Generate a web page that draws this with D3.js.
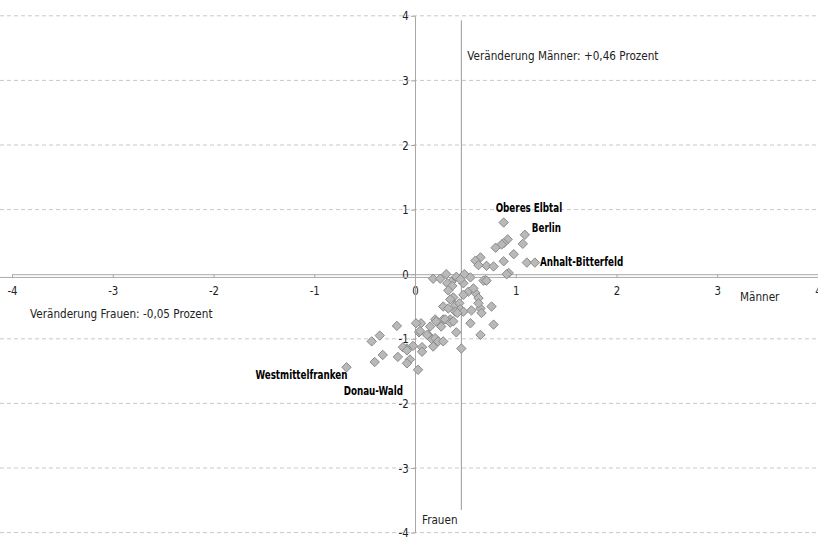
<!DOCTYPE html>
<html><head><meta charset="utf-8">
<script src="https://cdn.jsdelivr.net/npm/d3@7"></script>
<style>
body{margin:0;background:#fff;}
text{font-family:'Liberation Sans Narrow','Arial Narrow','DejaVu Sans Condensed',sans-serif;}
</style></head><body>
<svg id="c" width="818" height="537"></svg>
<script>
// Data: change in % (Männer = x, Frauen = y)
const maenner = [0.88,1.09,1.07,0.92,0.88,0.86,0.80,0.98,0.88,1.11,1.19,0.65,0.60,0.71,0.78,0.93,0.70,
 0.63,0.91,0.18,0.25,0.31,0.41,0.49,0.36,0.32,0.37,0.48,0.68,0.71,0.53,0.60,0.58,0.63,0.48,0.38,0.35,
 0.28,0.33,0.40,0.44,0.45,0.48,0.40,0.56,0.65,0.66,0.76,0.63,0.20,0.28,0.35,0.06,0.15,0.21,0.30,0.35,0.38,
 0.26,0.04,0.13,0.17,0.20,0.23,0.28,0.18,0.07,0.07,-0.02,-0.08,0.41,0.55,0.65,0.78,0.46,0.03,
 -0.18,-0.35,-0.43,-0.32,-0.40,-0.68,-0.17,-0.12,-0.08,-0.05,-0.08,0.01,0.05,0.12,0.33,0.45,0.42,0.55];
const frauen  = [0.80,0.61,0.47,0.54,0.48,0.46,0.41,0.31,0.20,0.18,0.18,0.26,0.21,0.13,0.12,0.02,-0.09,
 0.14,0.00,-0.07,-0.07,0.00,-0.04,0.00,-0.12,-0.14,-0.18,-0.14,-0.10,-0.10,-0.27,-0.29,-0.22,-0.37,-0.32,-0.36,-0.39,
 -0.50,-0.53,-0.48,-0.45,-0.54,-0.58,-0.58,-0.56,-0.53,-0.60,-0.50,-0.45,-0.70,-0.70,-0.70,-0.76,-0.81,-0.73,-0.70,-0.75,-0.73,
 -0.81,-0.90,-0.94,-1.01,-0.99,-1.04,-1.04,-1.12,-1.13,-1.20,-1.11,-1.15,-0.90,-0.76,-0.94,-0.78,-1.15,-1.48,
 -0.80,-0.95,-1.04,-1.25,-1.36,-1.44,-1.28,-1.13,-1.18,-1.32,-1.38,-0.76,-0.88,-0.94,-0.25,-0.08,-0.60,-0.05];
const labelNames = ["Oberes Elbtal","Berlin","Anhalt-Bitterfeld","Westmittelfranken","Donau-Wald"];
const labelX = [0.88,1.09,1.19,-0.68,0.03];
const labelY = [0.80,0.61,0.18,-1.44,-1.48];
const xTicks = [-4,-3,-2,-1,0,1,2,3,4];
const yTicks = [-4,-3,-2,-1,0,1,2,3,4];
const meanMaenner = 0.46, meanFrauen = -0.05;

// label placement (style, not data)
const labelStyle = [
  {anchor:"start", dx:-8, dy:-11},
  {anchor:"start", dx:7, dy:-3},
  {anchor:"start", dx:5, dy:3},
  {anchor:"end", dx:1, dy:12},
  {anchor:"end", dx:-15, dy:25}
];

const svg = d3.select("#c");
const x = d3.scaleLinear().domain([-4,4]).range([12,818]);
const y = d3.scaleLinear().domain([-4,4]).range([532.6,15.8]);
const TXT = "#222";

function addText(px, py, str, opts={}){
  const s = opts.scale || 0.93;
  return svg.append("text")
    .attr("transform",`translate(${px},${py}) scale(${s},1)`)
    .attr("text-anchor",opts.anchor||"start")
    .attr("font-size",opts.size||12.5)
    .attr("font-weight",opts.bold?"bold":"normal")
    .attr("fill",opts.fill||TXT).text(str);
}

// gridlines
svg.append("g").selectAll("line").data(yTicks.filter(d=>d!==0)).join("line")
  .attr("x1",0).attr("x2",818).attr("y1",d=>y(d)).attr("y2",d=>y(d))
  .attr("stroke","#c8c8c8").attr("stroke-dasharray","4,3").attr("stroke-width",1);

// x axis
const xAxis = svg.append("g").attr("transform",`translate(0,${y(0)})`)
  .call(d3.axisBottom(x).tickValues(xTicks).tickFormat(d=>String(d)).tickSizeOuter(0).tickSizeInner(4).tickPadding(8));
xAxis.select(".domain").attr("stroke","#a8a8a8");
xAxis.selectAll(".tick line").attr("stroke","#a8a8a8");
xAxis.selectAll(".tick text").attr("font-size",12.5).attr("fill",TXT).attr("transform","scale(0.9,1)");

// y axis
const yAxis = svg.append("g").attr("transform",`translate(${x(0)},0)`)
  .call(d3.axisLeft(y).tickValues(yTicks).tickFormat(d=>String(d)).tickSizeOuter(0).tickSizeInner(4).tickPadding(3));
yAxis.select(".domain").attr("stroke","#a8a8a8");
yAxis.selectAll(".tick line").attr("stroke","#a8a8a8");
yAxis.selectAll(".tick text").attr("font-size",12.5).attr("fill",TXT).attr("transform","scale(0.9,1)");

// mean lines
svg.append("line").attr("x1",x(meanMaenner)).attr("x2",x(meanMaenner)).attr("y1",y(3.93)).attr("y2",y(-3.65))
  .attr("stroke","#999").attr("stroke-width",1);
svg.append("line").attr("x1",0).attr("x2",818).attr("y1",y(meanFrauen)).attr("y2",y(meanFrauen))
  .attr("stroke","#aaa").attr("stroke-width",1);

// points
const sym = d3.symbol().type(d3.symbolDiamond2).size(56);
svg.append("g").selectAll("path").data(maenner.map((m,i)=>[m,frauen[i]])).join("path")
  .attr("d",sym).attr("transform",d=>`translate(${x(d[0])},${y(d[1])})`)
  .attr("fill","#b9b9b9").attr("stroke","#8a8a8a").attr("stroke-width",1);

// point labels
labelNames.forEach((n,i)=>{
  const st = labelStyle[i];
  addText(x(labelX[i])+st.dx, y(labelY[i])+st.dy, n, {anchor:st.anchor, bold:true, scale:0.78, fill:"#000", size:12.5});
});

// annotations
addText(x(meanMaenner)+6, 60, "Veränderung Männer: +0,46 Prozent");
addText(30, 318, "Veränderung Frauen: -0,05 Prozent");
addText(740, 301, "Männer");
addText(422, 524, "Frauen");
</script></body></html>
